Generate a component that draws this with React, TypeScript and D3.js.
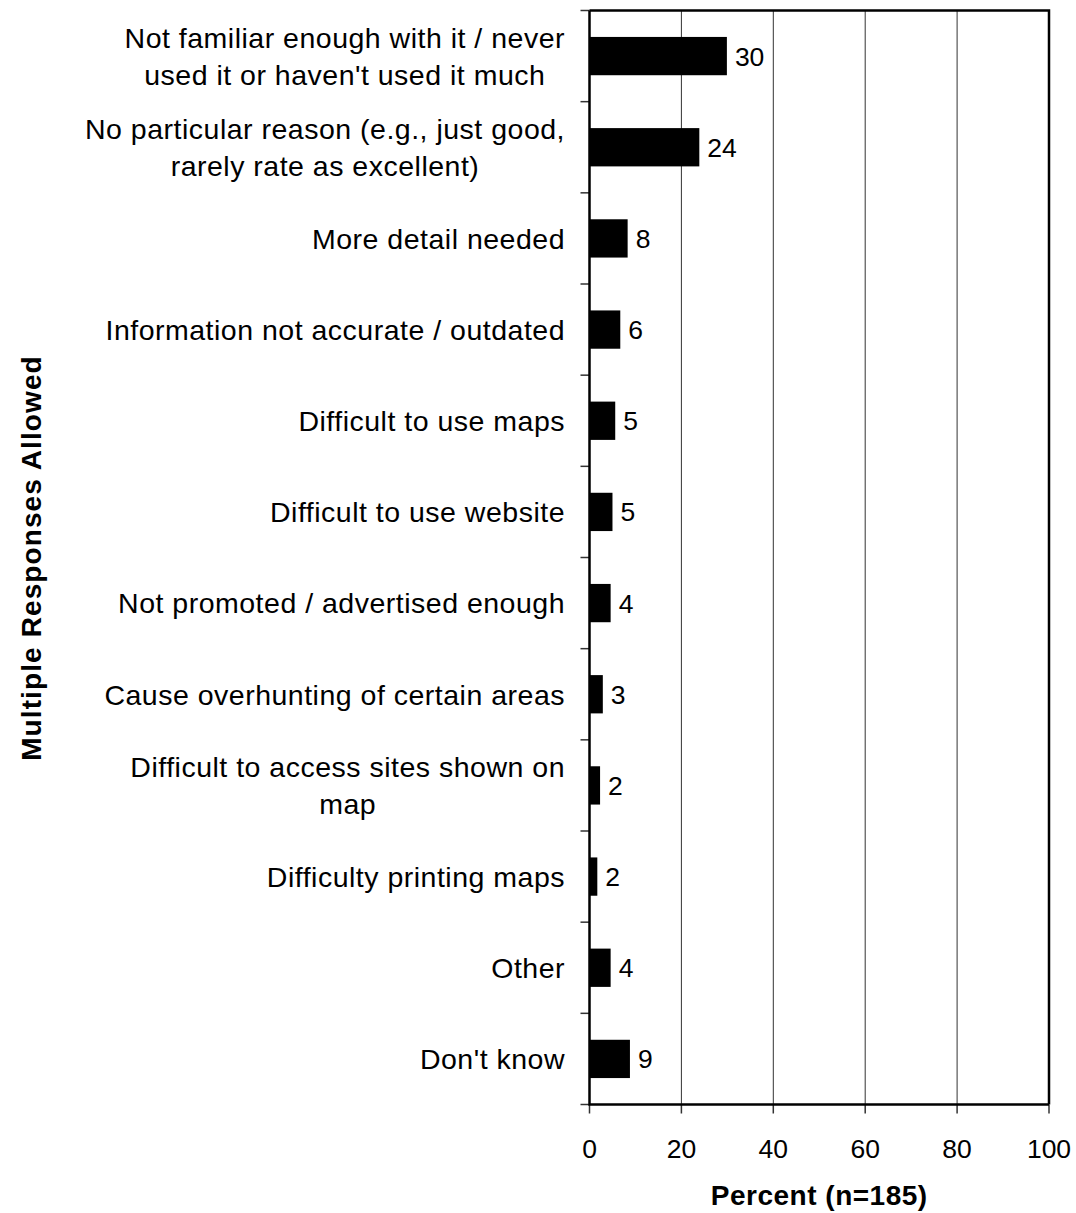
import React, { useEffect, useRef } from "react";
import * as d3 from "d3";

const categories: string[][] = [
  ["Not familiar enough with it / never", "used it or haven't used it much"],
  ["No particular reason (e.g., just good,", "rarely rate as excellent)"],
  ["More detail needed"],
  ["Information not accurate / outdated"],
  ["Difficult to use maps"],
  ["Difficult to use website"],
  ["Not promoted / advertised enough"],
  ["Cause overhunting of certain areas"],
  ["Difficult to access sites shown on", "map"],
  ["Difficulty printing maps"],
  ["Other"],
  ["Don't know"],
];
const values: number[] = [29.9, 23.9, 8.3, 6.7, 5.6, 5.0, 4.6, 2.9, 2.3, 1.7, 4.6, 8.8];
const valueLabels: string[] = ["30", "24", "8", "6", "5", "5", "4", "3", "2", "2", "4", "9"];
const xTicks: number[] = [0, 20, 40, 60, 80, 100];
const xTitle = "Percent (n=185)";
const yTitle = "Multiple Responses Allowed";

const W = 1076;
const H = 1213;
const M = { left: 589.5, right: 1049, top: 10.5, bottom: 1104.5 };
const FONT = "'Liberation Sans', Arial, Helvetica, sans-serif";

export default function App() {
  const ref = useRef<SVGSVGElement | null>(null);

  useEffect(() => {
    const svg = d3.select(ref.current);
    svg.selectAll("*").remove();

    const ids = categories.map((_, i) => String(i));
    const x = d3.scaleLinear().domain([0, 100]).range([M.left, M.right]);
    const y = d3
      .scaleBand<string>()
      .domain(ids)
      .range([M.top, M.bottom])
      .paddingInner(0.58)
      .paddingOuter(0.29);
    const step = y.step();

    // gridlines
    svg
      .append("g")
      .selectAll("line")
      .data(xTicks.filter((t) => t > 0 && t < 100))
      .join("line")
      .attr("x1", (d) => x(d))
      .attr("x2", (d) => x(d))
      .attr("y1", M.top)
      .attr("y2", M.bottom)
      .attr("stroke", "#333")
      .attr("stroke-width", 1);

    // bars
    svg
      .append("g")
      .selectAll("rect")
      .data(values)
      .join("rect")
      .attr("x", x(0))
      .attr("y", (_, i) => y(ids[i]) as number)
      .attr("width", (d) => x(d) - x(0))
      .attr("height", y.bandwidth())
      .attr("fill", "#000");

    // value labels
    svg
      .append("g")
      .selectAll("text")
      .data(values)
      .join("text")
      .attr("x", (d) => x(d) + 8)
      .attr("y", (_, i) => (y(ids[i]) as number) + y.bandwidth() / 2)
      .attr("dy", "0.36em")
      .attr("font-family", FONT)
      .attr("font-size", 26.5)
      .attr("fill", "#000")
      .text((_, i) => valueLabels[i]);

    // frame (top and right)
    svg
      .append("path")
      .attr("d", `M${M.left},${M.top}H${M.right}V${M.bottom}`)
      .attr("fill", "none")
      .attr("stroke", "#000")
      .attr("stroke-width", 2.5);

    // y axis ticks
    const yTickPos = d3.range(categories.length + 1).map((i) => M.top + i * step);
    svg
      .append("g")
      .selectAll("line")
      .data(yTickPos)
      .join("line")
      .attr("x1", M.left - 9)
      .attr("x2", M.left)
      .attr("y1", (d) => d)
      .attr("y2", (d) => d)
      .attr("stroke", "#333")
      .attr("stroke-width", 1.5);
    // x ticks
    svg
      .append("g")
      .selectAll("line")
      .data(xTicks)
      .join("line")
      .attr("x1", (d) => x(d))
      .attr("x2", (d) => x(d))
      .attr("y1", M.bottom)
      .attr("y2", M.bottom + 9)
      .attr("stroke", "#333")
      .attr("stroke-width", 1.5);
    svg
      .append("path")
      .attr("d", `M${M.left},${M.top}V${M.bottom}H${M.right}`)
      .attr("fill", "none")
      .attr("stroke", "#000")
      .attr("stroke-width", 2.5);

    // x tick labels
    svg
      .append("g")
      .selectAll("text")
      .data(xTicks)
      .join("text")
      .attr("x", (d) => x(d))
      .attr("y", 1158)
      .attr("text-anchor", "middle")
      .attr("font-family", FONT)
      .attr("font-size", 26.5)
      .attr("fill", "#000")
      .text((d) => String(d));

    // category labels
    const lineH = 36.5;
    const labelRight = 565;
    categories.forEach((lines, i) => {
      const cy = (y(ids[i]) as number) + y.bandwidth() / 2;
      const g = svg.append("g");
      const texts = lines.map((ln, j) =>
        g
          .append("text")
          .attr("font-family", FONT)
          .attr("font-size", 28.5)
          .attr("letter-spacing", "0.5px")
          .attr("fill", "#000")
          .attr("text-anchor", "middle")
          .attr("y", cy + (j - (lines.length - 1) / 2) * lineH)
          .attr("dy", "0.36em")
          .text(ln)
      );
      const widths = texts.map((t) => (t.node() as SVGTextElement).getComputedTextLength());
      const maxW = Math.max(...widths);
      texts.forEach((t) => t.attr("x", labelRight - maxW / 2));
    });

    // axis titles
    svg
      .append("text")
      .attr("x", (M.left + M.right) / 2)
      .attr("y", 1205)
      .attr("text-anchor", "middle")
      .attr("font-family", FONT)
      .attr("font-size", 28)
      .attr("font-weight", "bold")
      .attr("letter-spacing", "0.5px")
      .attr("fill", "#000")
      .text(xTitle);

    svg
      .append("text")
      .attr("transform", `translate(31,558) rotate(-90)`)
      .attr("text-anchor", "middle")
      .attr("dy", "0.36em")
      .attr("font-family", FONT)
      .attr("font-size", 28)
      .attr("font-weight", "bold")
      .attr("letter-spacing", "1.1px")
      .attr("fill", "#000")
      .text(yTitle);
  }, []);

  return (
    <svg
      ref={ref}
      width={W}
      height={H}
      viewBox={`0 0 ${W} ${H}`}
      style={{ display: "block", position: "absolute", left: 0, top: 0, background: "#fff" }}
    />
  );
}
